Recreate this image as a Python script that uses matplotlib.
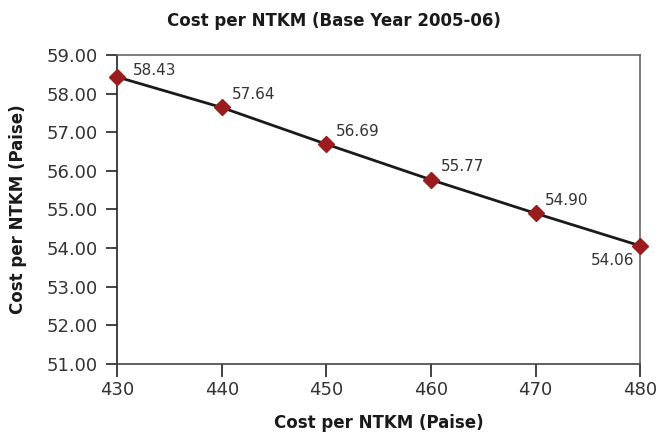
import numpy as np
import matplotlib.pyplot as plt

# Datos
paise = [430, 440, 450, 460, 470, 480]
cost = [58.43, 57.64, 56.69, 55.77, 54.90, 54.06]
labels = ["58.43", "57.64", "56.69", "55.77", "54.90", "54.06"]

plt.rcParams['font.family'] = ['DejaVu Sans']

fig = plt.figure(figsize=(6.58, 4.36), dpi=100)
ax = fig.add_axes([0.178, 0.165, 0.795, 0.709])

ax.plot(paise, cost, color='#1a1a1a', lw=2, zorder=2)
ax.plot(paise, cost, ls='none', marker='D', ms=8, color='#9b1c1c',
        zorder=3, clip_on=False)

# Etiquetas de valores
for i, (x, y, t) in enumerate(zip(paise, cost, labels)):
    if i == 0:
        off, ha, va = (11, -1), 'left', 'bottom'
    elif i == len(paise) - 1:
        off, ha, va = (-4, -5), 'right', 'top'
    else:
        off, ha, va = (7, 4), 'left', 'bottom'
    ax.annotate(t, (x, y), xytext=off, textcoords='offset points',
                ha=ha, va=va, fontsize=11, color='#333333')

ax.set_xlim(430, 480)
ax.set_ylim(51, 59)
ax.set_xticks(np.arange(430, 481, 10))
ax.set_yticks(np.arange(51, 59.01, 1))
ax.set_yticklabels([f"{v:.2f}" for v in np.arange(51, 59.01, 1)])
ax.tick_params(axis='x', direction='out', length=9, labelsize=13, pad=3)
ax.tick_params(axis='y', direction='out', length=8, labelsize=13, pad=6)
ax.tick_params(axis='both', color='#222222', labelcolor='#333333', width=1.2)

ax.spines['left'].set_color('#222222')
ax.spines['bottom'].set_color('#444444')
for s in ['top', 'right']:
    ax.spines[s].set_color('#666666')
for s in ax.spines.values():
    s.set_linewidth(1.2)

fig.text(334 / 658, 1 - 21 / 436, 'Cost per NTKM (Base Year 2005-06)',
         ha='center', va='center', fontsize=12, fontweight='bold', color='#1a1a1a')
ax.set_xlabel('Cost per NTKM (Paise)', fontsize=12, fontweight='bold',
              labelpad=11, color='#1a1a1a')
ax.set_ylabel('Cost per NTKM (Paise)', fontsize=12, fontweight='bold',
              labelpad=14, color='#1a1a1a')

plt.savefig('out.png', dpi=100)
